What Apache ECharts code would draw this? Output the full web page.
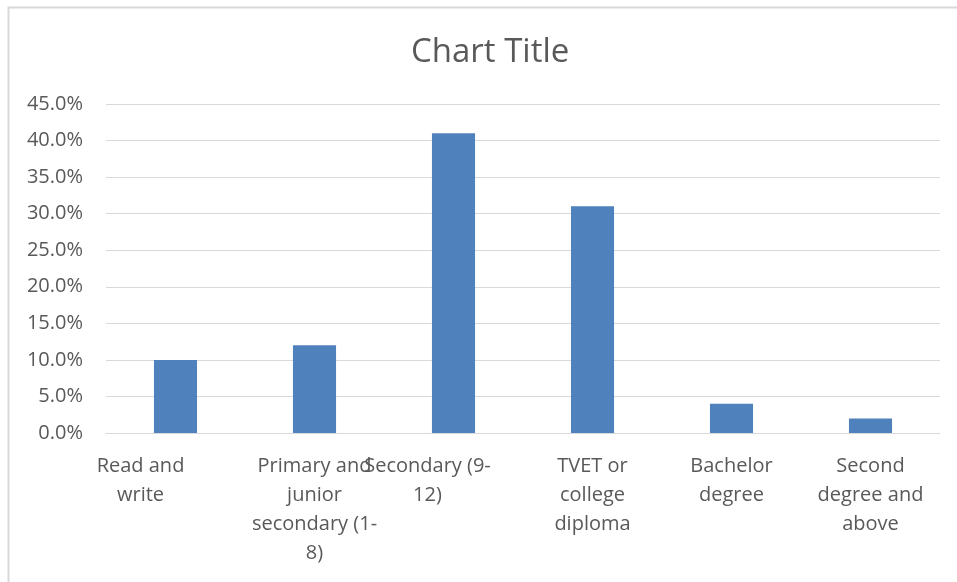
<!DOCTYPE html>
<html>
<head>
<meta charset="utf-8">
<script src="https://cdn.jsdelivr.net/npm/echarts@6/dist/echarts.min.js"></script>
<style>html,body{margin:0;padding:0;background:#fff;}#c{width:957px;height:582px;}</style>
</head>
<body>
<div id="c"></div>
<script>
var categories = ['Read and\nwrite', 'Primary and\njunior\nsecondary (1-\n8)', 'Secondary (9-\n12)', 'TVET or\ncollege\ndiploma', 'Bachelor\ndegree', 'Second\ndegree and\nabove'];
var values = [0.10, 0.12, 0.41, 0.31, 0.04, 0.02];
var labelShift = [-35, 0, -26, 0, 0, 0];

var chart = echarts.init(document.getElementById('c'));
var font = '"Open Sans", sans-serif';
var xData = categories.map(function (c, i) {
  var s = labelShift[i];
  var pad = s < 0 ? [0, -2 * s, 0, 0] : [0, 0, 0, 2 * s];
  return { value: c, textStyle: { padding: pad } };
});
chart.setOption({
  animation: false,
  backgroundColor: '#ffffff',
  title: {
    text: 'Chart Title', left: 406, top: 31,
    textStyle: { color: '#595959', fontSize: 33, fontWeight: 'normal', fontFamily: font }
  },
  graphic: [{
    type: 'rect', left: 6, top: 5, silent: true,
    shape: { width: 1000, height: 1000 },
    style: { fill: 'none', stroke: '#d9d9d9', lineWidth: 2 }
  }],
  grid: { left: 106, right: 17, top: 104, bottom: 149 },
  xAxis: {
    type: 'category', data: xData,
    axisLine: { lineStyle: { color: '#d9d9d9', width: 1 } },
    axisTick: { show: false },
    axisLabel: { interval: 0, color: '#595959', fontSize: 20, fontFamily: font, lineHeight: 29, margin: 19 }
  },
  yAxis: {
    type: 'value', min: 0, max: 0.45, interval: 0.05,
    axisLine: { show: false }, axisTick: { show: false },
    splitLine: { lineStyle: { color: '#d9d9d9', width: 1 } },
    axisLabel: {
      color: '#595959', fontSize: 20, fontFamily: font, margin: 23,
      formatter: function (v) { return (v * 100).toFixed(1) + '%'; }
    }
  },
  series: [{
    type: 'bar', data: values, barWidth: '31%',
    itemStyle: { color: '#4f81bd' }
  }]
});
</script>
</body>
</html>
